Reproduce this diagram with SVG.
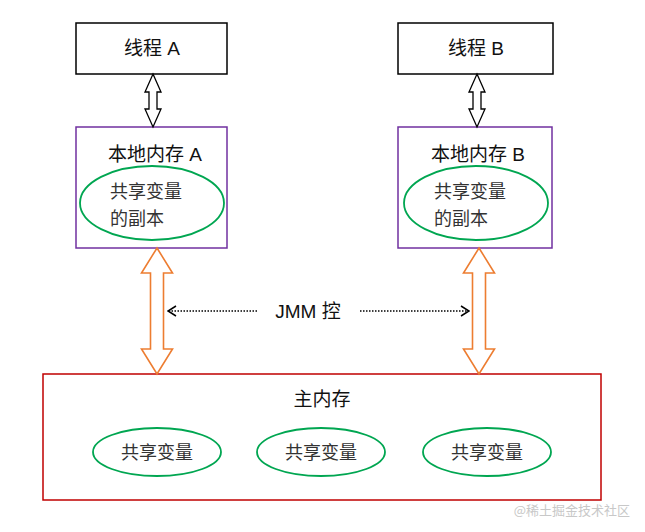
<svg xmlns="http://www.w3.org/2000/svg" width="645" height="532" viewBox="0 0 645 532">
<style>
.t{font-family:"Liberation Sans","Noto Sans CJK SC",sans-serif;fill:#111;}
.c{font-family:"Noto Sans CJK SC",sans-serif;fill:#333;font-size:18px;}
.cm{font-family:"Noto Sans CJK SC",sans-serif;fill:#333;font-size:18px;}
.thread{fill:#fff;stroke:#000;stroke-width:1.5;}
.local{fill:#fff;stroke:#7030A0;stroke-width:1.5;}
.ell{fill:#fff;stroke:#00A651;stroke-width:1.8;}
.main{fill:#fff;stroke:#C00000;stroke-width:1.5;}
.barrow{fill:#fff;stroke:#000;stroke-width:1.3;}
.oarrow{fill:#fff;stroke:#ED7D31;stroke-width:1.6;}
.dot{stroke:#000;stroke-width:1.5;stroke-dasharray:1.5 1.5;fill:none;}
</style>
<defs>
<marker id="chev" markerWidth="10" markerHeight="12" refX="9" refY="6" orient="auto" markerUnits="userSpaceOnUse">
<path d="M1,1 L9,6 L1,11" fill="none" stroke="#000" stroke-width="1.5"/>
</marker>
</defs>
<rect width="645" height="532" fill="#fff"/>
<g id="threadA"><rect class="thread" x="76" y="23" width="151" height="51"/><text class="t" x="152" y="55" font-size="19" text-anchor="middle">线程 A</text></g>
<g id="threadB"><rect class="thread" x="398" y="23" width="155" height="51"/><text class="t" x="476" y="55" font-size="19" text-anchor="middle">线程 B</text></g>
<g id="localA"><rect class="local" x="76" y="127" width="151" height="121"/><text class="t" x="155" y="161" font-size="19" text-anchor="middle">本地内存 A</text>
<ellipse class="ell" cx="152" cy="203" rx="72" ry="37"/><text class="c" x="110" y="198">共享变量</text><text class="c" x="110" y="225">的副本</text></g>
<g id="localB"><rect class="local" x="398" y="127" width="154" height="121"/><text class="t" x="478" y="161" font-size="19" text-anchor="middle">本地内存 B</text>
<ellipse class="ell" cx="476" cy="203" rx="72" ry="37"/><text class="c" x="434" y="198">共享变量</text><text class="c" x="434" y="225">的副本</text></g>
<g id="mainMem"><rect class="main" x="43" y="374" width="558" height="126"/><text class="t" x="322" y="406" font-size="19" text-anchor="middle">主内存</text>
<ellipse class="ell" cx="157" cy="452" rx="64" ry="24"/><text class="cm" x="157" y="459" text-anchor="middle">共享变量</text>
<ellipse class="ell" cx="321" cy="452" rx="64" ry="24"/><text class="cm" x="321" y="459" text-anchor="middle">共享变量</text>
<ellipse class="ell" cx="487" cy="452" rx="64" ry="24"/><text class="cm" x="487" y="459" text-anchor="middle">共享变量</text></g>
<g id="connectors">
<polygon class="barrow" points="153,74 161,92 157,92 157,109 161,109 153,127 145,109 149,109 149,92 145,92"/>
<polygon class="barrow" points="477,74 485,92 481,92 481,109 485,109 477,127 469,109 473,109 473,92 469,92"/>
<polygon class="oarrow" points="157,248 172.5,273 163.5,273 163.5,349 172.5,349 157,374 141.5,349 150.5,349 150.5,273 141.5,273"/>
<polygon class="oarrow" points="479,248 494.5,273 485.5,273 485.5,349 494.5,349 479,374 463.5,349 472.5,349 472.5,273 463.5,273"/>
<line class="dot" x1="257" y1="311" x2="168" y2="311" marker-end="url(#chev)"/>
<line class="dot" x1="360" y1="311" x2="469" y2="311" marker-end="url(#chev)"/>
<text class="t" x="308" y="318" font-size="19" text-anchor="middle">JMM 控</text>
</g>
<text x="630" y="515" font-family="Noto Sans CJK SC,sans-serif" font-size="13" fill="#c8c8c8" text-anchor="end">@稀土掘金技术社区</text>
</svg>
